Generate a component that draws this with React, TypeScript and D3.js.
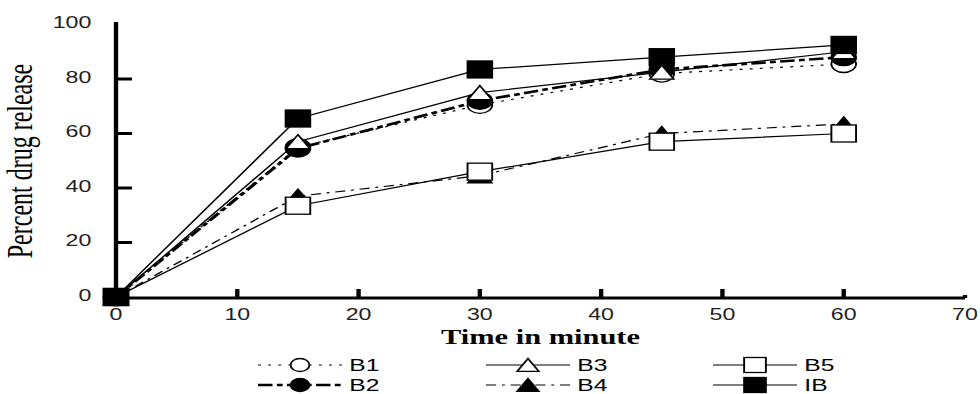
import React from 'react';
import * as d3 from 'd3';

const times = [0, 15, 30, 45, 60];
const B1 = [0, 55, 70.5, 82, 85.5];
const B2 = [0, 54.5, 72, 83.5, 88];
const B3 = [0, 57, 75, 82.5, 90];
const B4 = [0, 37, 44.5, 60, 63.5];
const B5 = [0, 33.5, 46, 57, 60];
const IB = [0, 65.5, 83.5, 88, 92.5];
const xTicks = [0, 10, 20, 30, 40, 50, 60, 70];
const yTicks = [0, 20, 40, 60, 80, 100];

// picture is stretched horizontally, so draw in a narrower box and stretch it
const STRETCH = 1.45;
const W = 980 / STRETCH;
const H = 394;

const x = d3.scaleLinear().domain([0, 70]).range([116 / STRETCH, 965 / STRETCH]);
const y = d3.scaleLinear().domain([0, 100]).range([297, 24.5]);

type Shape = 'circle' | 'triangle' | 'square';
const series = [
  { name: 'B1', values: B1, shape: 'circle' as Shape, filled: false, width: 1.2, dash: '2,5' },
  { name: 'B2', values: B2, shape: 'circle' as Shape, filled: true, width: 2.6, dash: '10,3,4,3' },
  { name: 'B3', values: B3, shape: 'triangle' as Shape, filled: false, width: 1.2, dash: null },
  { name: 'B4', values: B4, shape: 'triangle' as Shape, filled: true, width: 1.2, dash: '7,4,2,4' },
  { name: 'B5', values: B5, shape: 'square' as Shape, filled: false, width: 1.2, dash: null },
  { name: 'IB', values: IB, shape: 'square' as Shape, filled: true, width: 1.2, dash: null },
];
const legendOrder = [['B1', 'B2'], ['B3', 'B4'], ['B5', 'IB']];

const Marker = ({ shape, filled, cx, cy, size }: { shape: Shape; filled: boolean; cx: number; cy: number; size: number }) => {
  const fill = filled ? '#000' : '#fff';
  if (shape === 'circle') {
    return <circle cx={cx} cy={cy} r={size / 2} fill={fill} stroke="#000" strokeWidth={1.3} />;
  }
  if (shape === 'square') {
    return <rect x={cx - size / 2} y={cy - size / 2} width={size} height={size} fill={fill} stroke="#000" strokeWidth={1.3} />;
  }
  const h = size * 0.85;
  return (
    <path
      d={`M${cx},${cy - h / 2}L${cx + size / 2},${cy + h / 2}L${cx - size / 2},${cy + h / 2}Z`}
      fill={fill}
      stroke="#000"
      strokeWidth={1.3}
    />
  );
};

export default function App() {
  const line = d3
    .line<number>()
    .x((_, i) => x(times[i]))
    .y((d) => y(d));

  const x0 = x(0);
  const y0 = y(0);
  const legendX = [258, 486, 713].map((v) => v / STRETCH);
  const legendY = [365, 385];
  const lineLen = 84 / STRETCH;

  return (
    <svg
      width={980}
      height={394}
      viewBox={`0 0 ${W} ${H}`}
      preserveAspectRatio="none"
      style={{ position: 'absolute', left: 0, top: 0, background: '#fff' }}
    >
      {/* axes */}
      <line x1={x0} y1={22} x2={x0} y2={304} stroke="#000" strokeWidth={3} />
      <line x1={x0} y1={y0 + 1} x2={x(70)} y2={y0 + 1} stroke="#000" strokeWidth={3} />
      {yTicks.filter((t) => t > 0 && t < 100).map((t) => (
        <line key={t} x1={x0} x2={x0 + 11} y1={y(t)} y2={y(t)} stroke="#000" strokeWidth={3} />
      ))}
      {xTicks.filter((t) => t > 0).map((t) => (
        <line key={t} x1={x(t)} x2={x(t)} y1={y0 + 1} y2={t === 70 ? y0 - 2 : y0 - 8} stroke="#000" strokeWidth={3} />
      ))}
      {yTicks.map((t) => (
        <text key={t} x={63} y={y(t) + 4} textAnchor="end" fontFamily="Liberation Sans, Arial, sans-serif" fontSize={16} fill="#222">
          {t}
        </text>
      ))}
      {xTicks.map((t) => (
        <text key={t} x={x(t)} y={320} textAnchor="middle" fontFamily="Liberation Sans, Arial, sans-serif" fontSize={16} fill="#222">
          {t}
        </text>
      ))}
      <text
        x={(x(0) + x(70)) / 2}
        y={344}
        textAnchor="middle"
        fontFamily="Liberation Serif, Times New Roman, serif"
        fontWeight="bold"
        fontSize={21}
      >
        Time in minute
      </text>
      <text
        transform={`translate(${32 / STRETCH},161) rotate(-90)`}
        textAnchor="middle"
        fontFamily="Liberation Serif, Times New Roman, serif"
        fontSize={24}
      >
        Percent drug release
      </text>

      {/* lines */}
      {series.map((s) => (
        <path
          key={s.name}
          d={line(s.values) || ''}
          fill="none"
          stroke="#000"
          strokeWidth={s.width}
          strokeDasharray={s.dash || undefined}
        />
      ))}
      {/* markers */}
      {series.map((s) =>
        s.values.map((v, i) => (
          <Marker key={s.name + i} shape={s.shape} filled={s.filled} cx={x(times[i])} cy={y(v)} size={s.shape === 'triangle' ? 16.5 : 17} />
        ))
      )}

      {/* legend */}
      {legendOrder.map((col, ci) =>
        col.map((name, ri) => {
          const s = series.find((d) => d.name === name)!;
          const lx = legendX[ci];
          const ly = legendY[ri];
          return (
            <g key={name}>
              <line
                x1={lx}
                x2={lx + lineLen}
                y1={ly}
                y2={ly}
                stroke="#000"
                strokeWidth={s.width}
                strokeDasharray={s.dash || undefined}
              />
              <Marker shape={s.shape} filled={s.filled} cx={lx + lineLen / 2} cy={ly} size={s.shape === 'circle' ? 13 : 15} />
              <text x={lx + 63} y={ly + 6} fontFamily="Liberation Sans, Arial, sans-serif" fontSize={17}>
                {name}
              </text>
            </g>
          );
        })
      )}
    </svg>
  );
}
